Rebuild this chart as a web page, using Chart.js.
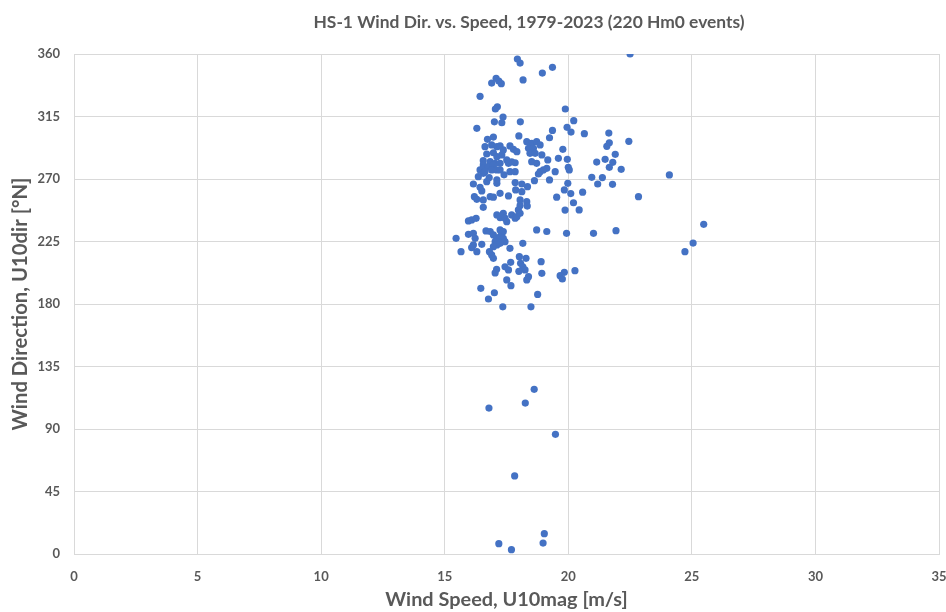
<!DOCTYPE html>
<html>
<head>
<meta charset="utf-8">
<script src="https://cdn.jsdelivr.net/npm/chart.js@4.4.1/dist/chart.umd.min.js"></script>
<style>
  html, body { margin: 0; padding: 0; background: #ffffff; }
  #wrap { width: 946px; height: 612px; position: relative; }
</style>
</head>
<body>
<div id="wrap"><canvas id="c" width="946" height="612"></canvas></div>
<script>
// ---- Data ----
const chartTitle = "HS-1 Wind Dir. vs. Speed, 1979-2023 (220 Hm0 events)";
const xAxisTitle = "Wind Speed, U10mag [m/s]";
const yAxisTitle = "Wind Direction, U10dir [°N]";
const xTickValues = [0, 5, 10, 15, 20, 25, 30, 35];
const yTickValues = [0, 45, 90, 135, 180, 225, 270, 315, 360];

// wind speed [m/s]
const windSpeed = [
  22.5, 17.94, 18.05, 19.36, 18.95, 17.08, 17.19, 17.29, 16.9, 18.17,
  16.43, 17.13, 17.05, 19.88, 17.36, 17.01, 17.31, 18.06, 20.22, 16.3,
  19.95, 20.11, 20.65, 21.64, 19.36, 18.0,
  21.66, 21.56, 22.45, 19.24, 16.73, 16.97, 16.63, 16.9, 17.11, 17.24,
  17.37, 17.64, 17.78, 17.92, 18.32, 18.52, 18.72, 18.86, 18.39, 18.59, 19.78,
  18.45, 18.66, 18.93, 18.52, 18.72, 19.17, 19.6, 19.96, 16.7, 16.97,
  17.11, 17.31, 17.51, 17.71, 17.58, 17.85, 16.56, 16.84, 17.04, 17.24,
  21.9, 21.15, 21.49, 21.8,
  21.66, 22.14, 20.0, 20.04, 19.47, 19.13, 18.99, 18.86, 18.79, 16.56,
  16.43, 16.56, 16.77, 16.97, 16.9, 17.1, 17.24, 16.56, 16.36, 16.63,
  17.64, 17.85, 20.95, 21.38, 24.09,
  16.16, 16.43, 16.7, 17.11, 17.11, 17.85, 18.12, 18.35, 18.63, 19.24,
  19.98, 21.19, 21.79, 18.12, 16.5, 19.84, 17.87, 20.58, 20.1,
  16.2, 16.3, 16.56, 16.84, 16.97, 17.24, 17.58, 18.05, 18.32, 19.53,
  22.84, 20.21, 18.34, 18.05,
  16.56, 19.87, 20.44, 17.11, 17.24, 17.37, 17.44, 17.71, 17.85, 17.98,
  18.05, 17.92, 15.96, 16.09, 16.27, 17.51,
  25.48, 16.67, 16.84, 17.24, 17.31, 17.37, 15.96, 16.16, 18.72, 19.13,
  19.93, 21.02, 21.93, 16.97,
  15.46, 16.23, 17.11, 17.24, 17.37, 17.44, 17.04, 17.17, 25.05, 18.16,
  17.24, 16.5, 16.16, 17.11, 16.97, 16.09, 17.64,
  24.72, 15.66, 16.3, 16.81, 16.9, 16.97, 18.02, 18.29, 18.07, 17.67, 18.9,
  18.16, 18.25, 18.0, 17.44, 17.58, 17.1, 17.04, 18.93, 20.27, 19.84,
  19.67, 19.76, 18.39, 18.32,
  17.51, 17.68, 16.46, 17.01, 18.76, 16.77, 17.35, 18.49,
  18.62, 18.26, 16.79, 19.48, 17.83, 19.03, 18.98, 17.19, 17.7,
  16.8, 17.4
];

// wind direction [deg N]
const windDir = [
  360, 356.4, 353.5, 350.4, 346.3, 342.5, 340.5, 338.6, 339.1, 341.3,
  329.5, 322, 320.4, 320.4, 314.6, 311.2, 310.5, 311.2, 312, 306.5,
  307.2, 303.8, 302.6, 303.1, 305, 301,
  296.1, 293.5, 297.1, 299.7, 298.6, 300.2, 293.3, 294.5, 293.3, 293.8,
  290.9, 293.8, 291.4, 289.7, 296.9, 295.7, 296.9, 294.5, 292.1, 292.1, 291.4,
  288.5, 288.5, 287.3, 282.5, 281.3, 283.7, 284.9, 284.2, 288, 288.9,
  286.1, 287.3, 283.7, 282.4, 281.3, 281.7, 283.2, 282.5, 281.3, 281.3,
  287.8, 282.2, 284.2, 282,
  278.4, 277, 278.4, 276.5, 275.3, 277.7, 276.5, 275.3, 273.6, 280.1,
  276.5, 277.7, 278.9, 280.1, 276.5, 276.5, 276.5, 274.1, 271.7, 275.3,
  275.3, 275.3, 271.2, 271, 272.9,
  266.4, 264, 268.1, 269.3, 266.9, 267.4, 266.4, 264.5, 268.8, 269.3,
  266.9, 266.4, 266.2, 260.9, 261.4, 262.1, 262.1, 260.5, 259.5,
  257.3, 255.4, 254.9, 257.3, 256.9, 259.7, 257.8, 254.9, 253.7, 256.9,
  257.3, 252.9, 250.5, 251,
  249.6, 247.6, 247.7, 244.1, 242.2, 245.3, 241.8, 244.1, 241.8, 247.7,
  245.3, 242.9, 239.8, 240.5, 241.7, 239.3,
  237.4, 232.6, 232.2, 233.3, 230.9, 232.2, 230.2, 230.9, 233.3, 232.2,
  230.9, 230.9, 232.8, 229.7,
  227.3, 227.3, 227.3, 228.5, 227.3, 224.9, 224.9, 224.9, 223.9, 223.7,
  223.7, 223, 222.5, 222.5, 221.3, 220.6, 220.1,
  217.7, 217.7, 217.7, 217.7, 215.3, 212.9, 214.1, 212.9, 209.3, 210, 210.5,
  206.8, 204.5, 203.5, 206.8, 204.5, 205, 202.4, 202.1, 204, 202.8,
  200.4, 198, 199.7, 197.3,
  197.3, 193.2, 191.3, 188.1, 186.9, 183.6, 178, 178,
  118.6, 108.7, 105.1, 86.2, 56.2, 14.6, 7.9, 7.4, 3.1,
  271, 273
];

// ---- Styling ----
const FONT = "Lato, 'Open Sans', sans-serif";
const TEXT = '#595959';
const GRID = '#d9d9d9';
const DOT = '#4472C4';

function fitSize(text, weight, target) {
  const cv = document.createElement('canvas').getContext('2d');
  cv.font = weight + ' 100px ' + FONT;
  return Math.round(100 * target / cv.measureText(text).width * 10) / 10;
}
const titleSize = fitSize(chartTitle, 'bold', 431);
const xTitleSize = fitSize(xAxisTitle, 'bold', 242);
const yTitleSize = fitSize(yAxisTitle, 'bold', 253);

const points = windSpeed.map((v, i) => ({ x: v, y: windDir[i] }));

const titlePlugin = {
  id: 'topTitle',
  afterDraw(chart) {
    const ctx = chart.ctx;
    ctx.save();
    ctx.font = 'bold ' + titleSize + 'px ' + FONT;
    ctx.fillStyle = TEXT;
    ctx.textAlign = 'center';
    ctx.textBaseline = 'middle';
    ctx.fillText(chartTitle, 529, 22);
    ctx.restore();
  }
};

new Chart(document.getElementById('c'), {
  type: 'scatter',
  data: {
    datasets: [{
      label: 'Hm0 events',
      data: points,
      backgroundColor: DOT,
      borderColor: DOT,
      borderWidth: 0,
      pointRadius: 3.6,
      pointHoverRadius: 3.6
    }]
  },
  options: {
    responsive: false,
    animation: false,
    devicePixelRatio: 1,
    layout: { padding: { top: 54, right: 0, left: 0, bottom: 0 } },
    plugins: {
      legend: { display: false },
      tooltip: { enabled: false },
      title: { display: false }
    },
    scales: {
      x: {
        type: 'linear',
        min: 0, max: 35,
        afterBuildTicks(scale) { scale.ticks = xTickValues.map(v => ({ value: v })); },
        afterFit(scale) { scale.height = 58; scale.paddingRight = 7; scale.paddingLeft = 0; },
        grid: { color: GRID, lineWidth: 1, drawTicks: false },
        border: { color: GRID },
        ticks: {
          padding: 15,
          color: TEXT,
          font: { family: FONT, size: 13, weight: 'bold' }
        },
        title: {
          display: true,
          text: xAxisTitle,
          color: TEXT,
          font: { family: FONT, size: xTitleSize, weight: 'bold' },
          padding: { top: 0, bottom: 0 }
        }
      },
      y: {
        type: 'linear',
        min: 0, max: 360,
        afterBuildTicks(scale) { scale.ticks = yTickValues.map(v => ({ value: v })); },
        afterFit(scale) { scale.width = 74; },
        grid: { color: GRID, lineWidth: 1, drawTicks: false },
        border: { color: GRID },
        ticks: {
          padding: 14,
          color: TEXT,
          font: { family: FONT, size: 13, weight: 'bold' }
        },
        title: {
          display: true,
          text: yAxisTitle,
          color: TEXT,
          font: { family: FONT, size: yTitleSize, weight: 'bold' },
          padding: { top: 8, bottom: 0 }
        }
      }
    }
  },
  plugins: [titlePlugin]
});
</script>
</body>
</html>
